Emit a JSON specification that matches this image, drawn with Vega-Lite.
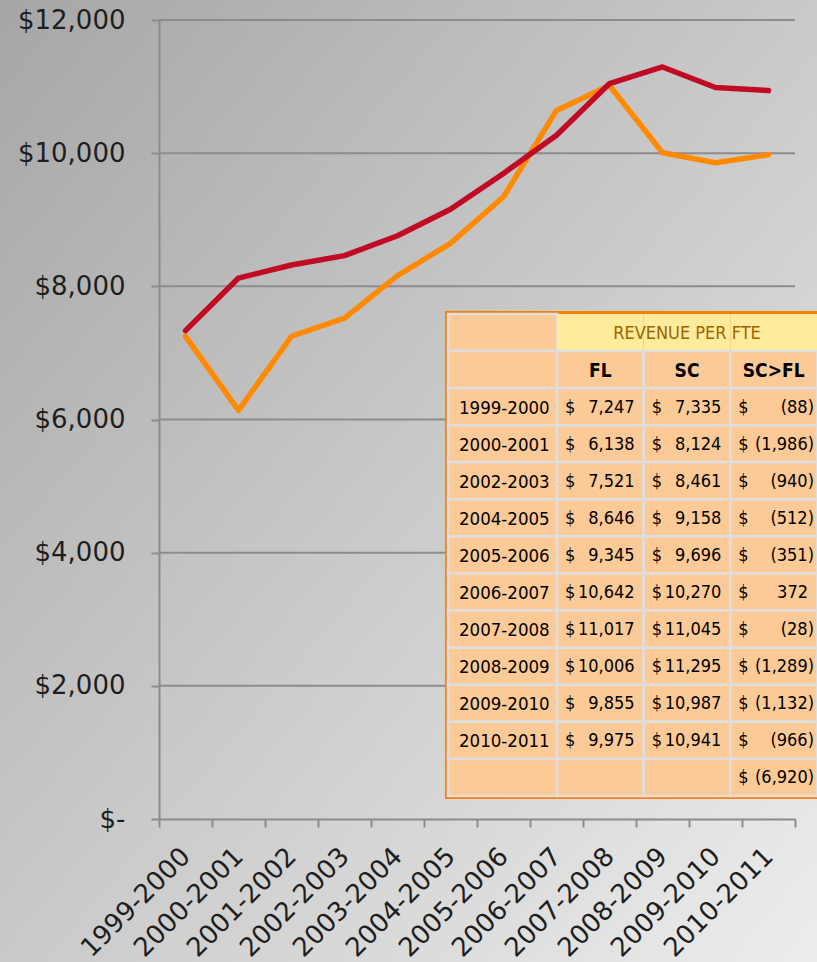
{
  "$schema": "https://vega.github.io/schema/vega-lite/v6.json",
  "width": 636,
  "height": 799,
  "padding": 0,
  "autosize": {"type": "pad"},
  "background": "#c8c8c8",
  "config": {
    "view": {"stroke": null}
  },
  "datasets": {
    "series": [
      {"period": "1999-2000", "FL": 7247, "SC": 7335},
      {"period": "2000-2001", "FL": 6138, "SC": 8124},
      {"period": "2001-2002", "FL": 7250, "SC": 8320},
      {"period": "2002-2003", "FL": 7521, "SC": 8461},
      {"period": "2003-2004", "FL": 8160, "SC": 8760},
      {"period": "2004-2005", "FL": 8646, "SC": 9158},
      {"period": "2005-2006", "FL": 9345, "SC": 9696},
      {"period": "2006-2007", "FL": 10642, "SC": 10270},
      {"period": "2007-2008", "FL": 11017, "SC": 11045},
      {"period": "2008-2009", "FL": 10006, "SC": 11295},
      {"period": "2009-2010", "FL": 9855, "SC": 10987},
      {"period": "2010-2011", "FL": 9975, "SC": 10941}
    ],
    "grid": [{"v": 2000}, {"v": 4000}, {"v": 6000}, {"v": 8000}, {"v": 10000}, {"v": 12000}],
    "table": [
      {"row": "h1"},
      {"row": "h2"},
      {"row": "1999-2000", "FL": 7247, "SC": 7335, "diff": -88},
      {"row": "2000-2001", "FL": 6138, "SC": 8124, "diff": -1986},
      {"row": "2002-2003", "FL": 7521, "SC": 8461, "diff": -940},
      {"row": "2004-2005", "FL": 8646, "SC": 9158, "diff": -512},
      {"row": "2005-2006", "FL": 9345, "SC": 9696, "diff": -351},
      {"row": "2006-2007", "FL": 10642, "SC": 10270, "diff": 372},
      {"row": "2007-2008", "FL": 11017, "SC": 11045, "diff": -28},
      {"row": "2008-2009", "FL": 10006, "SC": 11295, "diff": -1289},
      {"row": "2009-2010", "FL": 9855, "SC": 10987, "diff": -1132},
      {"row": "2010-2011", "FL": 9975, "SC": 10941, "diff": -966},
      {"row": "total", "diff": -6920}
    ],
    "heads": [
      {"col": "FL", "text": "FL"},
      {"col": "SC", "text": "SC"},
      {"col": "diff", "text": "SC>FL"}
    ]
  },
  "layer": [
    {
      "data": {"values": [{}]},
      "mark": {
        "type": "rect",
        "fill": {
          "gradient": "linear", "x1": 0, "y1": 0, "x2": 1, "y2": 1,
          "stops": [{"offset": 0, "color": "#a6a6a6"}, {"offset": 1, "color": "#ededed"}]
        }
      },
      "encoding": {
        "x": {"datum": 0, "type": "quantitative", "scale": {"domain": [0, 1], "range": [-159, 658]}, "axis": null},
        "x2": {"datum": 1},
        "y": {"datum": 0, "type": "quantitative", "scale": {"domain": [0, 1], "range": [-20, 942]}, "axis": null},
        "y2": {"datum": 1}
      }
    },
    {
      "layer": [
        {
          "data": {"name": "grid"},
          "mark": {"type": "rule", "color": "#8c8c8c", "strokeWidth": 2},
          "encoding": {
            "y": {
              "field": "v", "type": "quantitative",
              "scale": {"domain": [0, 12000], "nice": false},
              "axis": {
                "zindex": 2,
                "title": null, "values": [0, 2000, 4000, 6000, 8000, 10000, 12000],
                "labelExpr": "datum.value === 0 ? '$-' : '$' + format(datum.value, ',')",
                "labelFont": "DejaVu Sans", "labelFontSize": 26, "labelColor": "#1e1e1e", "labelPadding": 26,
                "tickSize": 8, "tickColor": "#8c8c8c", "tickWidth": 2,
                "domainColor": "#8c8c8c", "domainWidth": 2, "grid": false
              }
            }
          }
        },
        {
          "data": {"name": "series"},
          "transform": [{"fold": ["FL", "SC"], "as": ["series", "val"]}],
          "mark": {"type": "line", "strokeWidth": 5.5, "strokeCap": "round", "strokeJoin": "round"},
          "encoding": {
            "x": {
              "field": "period", "type": "ordinal", "bandPosition": 0.5,
              "scale": {"type": "band", "paddingInner": 0, "paddingOuter": 0},
              "axis": {
                "zindex": 2,
                "title": null, "labelAngle": -45, "labelAlign": "right", "labelBaseline": "middle",
                "labelPadding": 25, "labelFont": "DejaVu Sans", "labelFontSize": 26, "labelColor": "#1e1e1e",
                "tickBand": "extent", "tickSize": 8, "tickColor": "#8c8c8c", "tickWidth": 2,
                "domainColor": "#8c8c8c", "domainWidth": 2, "labelOverlap": false, "labelBound": false, "grid": false
              }
            },
            "y": {
              "field": "val", "type": "quantitative",
              "scale": {"domain": [0, 12000], "nice": false},
              "axis": {
                "zindex": 2,
                "title": null, "values": [0, 2000, 4000, 6000, 8000, 10000, 12000],
                "labelExpr": "datum.value === 0 ? '$-' : '$' + format(datum.value, ',')",
                "labelFont": "DejaVu Sans", "labelFontSize": 26, "labelColor": "#1e1e1e", "labelPadding": 26,
                "tickSize": 8, "tickColor": "#8c8c8c", "tickWidth": 2,
                "domainColor": "#8c8c8c", "domainWidth": 2, "grid": false
              }
            },
            "color": {
              "field": "series", "type": "nominal",
              "scale": {"domain": ["FL", "SC"], "range": ["#ff8a00", "#c10b25"]},
              "legend": null
            }
          }
        }
      ]
    },
    {
      "data": {"values": [{}]},
      "mark": {"type": "rect", "fill": "#ff8000"},
      "encoding": {
        "x": {"datum": 0, "type": "quantitative", "scale": {"domain": [0, 1], "range": [286, 658]}, "axis": null},
        "x2": {"datum": 1},
        "y": {"datum": 0, "type": "quantitative", "scale": {"domain": [0, 1], "range": [291, 779]}, "axis": null},
        "y2": {"datum": 1}
      }
    },
    {
      "data": {"name": "table"},
      "encoding": {
        "y": {
          "field": "row", "type": "nominal",
          "scale": {
            "type": "band",
            "domain": ["h1", "h2", "1999-2000", "2000-2001", "2002-2003", "2004-2005", "2005-2006", "2006-2007", "2007-2008", "2008-2009", "2009-2010", "2010-2011", "total"],
            "range": [294, 776], "paddingInner": 0, "paddingOuter": 0
          },
          "axis": null
        }
      },
      "layer": [
        {
          "mark": {"type": "rect", "fill": "#fbca97", "stroke": "#dedede", "strokeWidth": 2.5},
          "encoding": {
            "x": {
              "datum": "label", "type": "nominal",
              "scale": {"type": "band", "domain": ["label"], "range": [289, 398], "paddingInner": 0, "paddingOuter": 0},
              "axis": null
            }
          }
        },
        {
          "transform": [{"filter": "isValid(datum.FL)"}],
          "mark": {"type": "text", "align": "left", "baseline": "middle", "dx": 11, "dy": 1, "font": "DejaVu Sans Condensed, Liberation Sans, sans-serif", "fontSize": 18.5, "color": "#000000"},
          "encoding": {
            "x": {"datum": "label", "type": "nominal", "bandPosition": 0},
            "text": {"field": "row", "type": "nominal"}
          }
        }
      ]
    },
    {
      "data": {"name": "table"},
      "encoding": {
        "y": {
          "field": "row", "type": "nominal",
          "scale": {
            "type": "band",
            "domain": ["h1", "h2", "1999-2000", "2000-2001", "2002-2003", "2004-2005", "2005-2006", "2006-2007", "2007-2008", "2008-2009", "2009-2010", "2010-2011", "total"],
            "range": [294, 776], "paddingInner": 0, "paddingOuter": 0
          },
          "axis": null
        }
      },
      "layer": [
        {
          "transform": [{"fold": ["FL", "SC", "diff"], "as": ["col", "val"]}],
          "mark": {"type": "rect", "stroke": "#dedede", "strokeWidth": 2.5},
          "encoding": {
            "x": {
              "field": "col", "type": "nominal",
              "scale": {"type": "band", "domain": ["FL", "SC", "diff"], "range": [398, 658], "paddingInner": 0, "paddingOuter": 0},
              "axis": null
            },
            "fill": {"condition": {"test": "datum.row === 'h1'", "value": "#ffeb9c"}, "value": "#fbca97"},
            "strokeOpacity": {"condition": {"test": "datum.row === 'h1'", "value": 0}, "value": 1}
          }
        },
        {
          "transform": [{"filter": "isValid(datum.FL)"}],
          "mark": {"type": "text", "align": "left", "baseline": "middle", "dx": 8, "dy": 1, "font": "DejaVu Sans Condensed, Liberation Sans, sans-serif", "fontSize": 18, "color": "#000000"},
          "encoding": {"x": {"datum": "FL", "type": "nominal", "bandPosition": 0}, "text": {"value": "$"}}
        },
        {
          "transform": [{"filter": "isValid(datum.FL)"}],
          "mark": {"type": "text", "align": "right", "baseline": "middle", "dx": -9, "dy": 1, "font": "DejaVu Sans Condensed, Liberation Sans, sans-serif", "fontSize": 18, "color": "#000000"},
          "encoding": {"x": {"datum": "FL", "type": "nominal", "bandPosition": 1}, "text": {"field": "FL", "type": "quantitative", "format": "(,.0f"}}
        },
        {
          "transform": [{"filter": "isValid(datum.SC)"}],
          "mark": {"type": "text", "align": "left", "baseline": "middle", "dx": 8, "dy": 1, "font": "DejaVu Sans Condensed, Liberation Sans, sans-serif", "fontSize": 18, "color": "#000000"},
          "encoding": {"x": {"datum": "SC", "type": "nominal", "bandPosition": 0}, "text": {"value": "$"}}
        },
        {
          "transform": [{"filter": "isValid(datum.SC)"}],
          "mark": {"type": "text", "align": "right", "baseline": "middle", "dx": -9, "dy": 1, "font": "DejaVu Sans Condensed, Liberation Sans, sans-serif", "fontSize": 18, "color": "#000000"},
          "encoding": {"x": {"datum": "SC", "type": "nominal", "bandPosition": 1}, "text": {"field": "SC", "type": "quantitative", "format": "(,.0f"}}
        },
        {
          "transform": [{"filter": "isValid(datum.diff)"}],
          "mark": {"type": "text", "align": "left", "baseline": "middle", "dx": 8, "dy": 1, "font": "DejaVu Sans Condensed, Liberation Sans, sans-serif", "fontSize": 18, "color": "#000000"},
          "encoding": {"x": {"datum": "diff", "type": "nominal", "bandPosition": 0}, "text": {"value": "$"}}
        },
        {
          "transform": [{"filter": "isValid(datum.diff) && datum.diff >= 0"}],
          "mark": {"type": "text", "align": "right", "baseline": "middle", "dx": -9, "dy": 1, "font": "DejaVu Sans Condensed, Liberation Sans, sans-serif", "fontSize": 18, "color": "#000000"},
          "encoding": {"x": {"datum": "diff", "type": "nominal", "bandPosition": 1}, "text": {"field": "diff", "type": "quantitative", "format": "(,.0f"}}
        },
        {
          "transform": [{"filter": "isValid(datum.diff) && datum.diff < 0"}],
          "mark": {"type": "text", "align": "right", "baseline": "middle", "dx": -3, "dy": 1, "font": "DejaVu Sans Condensed, Liberation Sans, sans-serif", "fontSize": 18, "color": "#000000"},
          "encoding": {"x": {"datum": "diff", "type": "nominal", "bandPosition": 1}, "text": {"field": "diff", "type": "quantitative", "format": "(,.0f"}}
        },
        {
          "data": {"name": "heads"},
          "mark": {"type": "text", "align": "center", "baseline": "middle", "dy": 1, "font": "DejaVu Sans Condensed, Liberation Sans, sans-serif", "fontSize": 19, "fontWeight": "bold", "color": "#000000"},
          "encoding": {"x": {"field": "col", "type": "nominal"}, "y": {"datum": "h2", "type": "nominal"}, "text": {"field": "text", "type": "nominal"}}
        },
        {
          "data": {"values": [{}]},
          "mark": {"type": "text", "text": "REVENUE PER FTE", "align": "center", "baseline": "middle", "dy": 1, "font": "DejaVu Sans Condensed, Liberation Sans, sans-serif", "fontSize": 18, "color": "#9c6500"},
          "encoding": {"x": {"datum": "SC", "type": "nominal"}, "y": {"datum": "h1", "type": "nominal"}}
        }
      ]
    }
  ],
  "resolve": {"scale": {"x": "independent", "y": "independent"}}
}
